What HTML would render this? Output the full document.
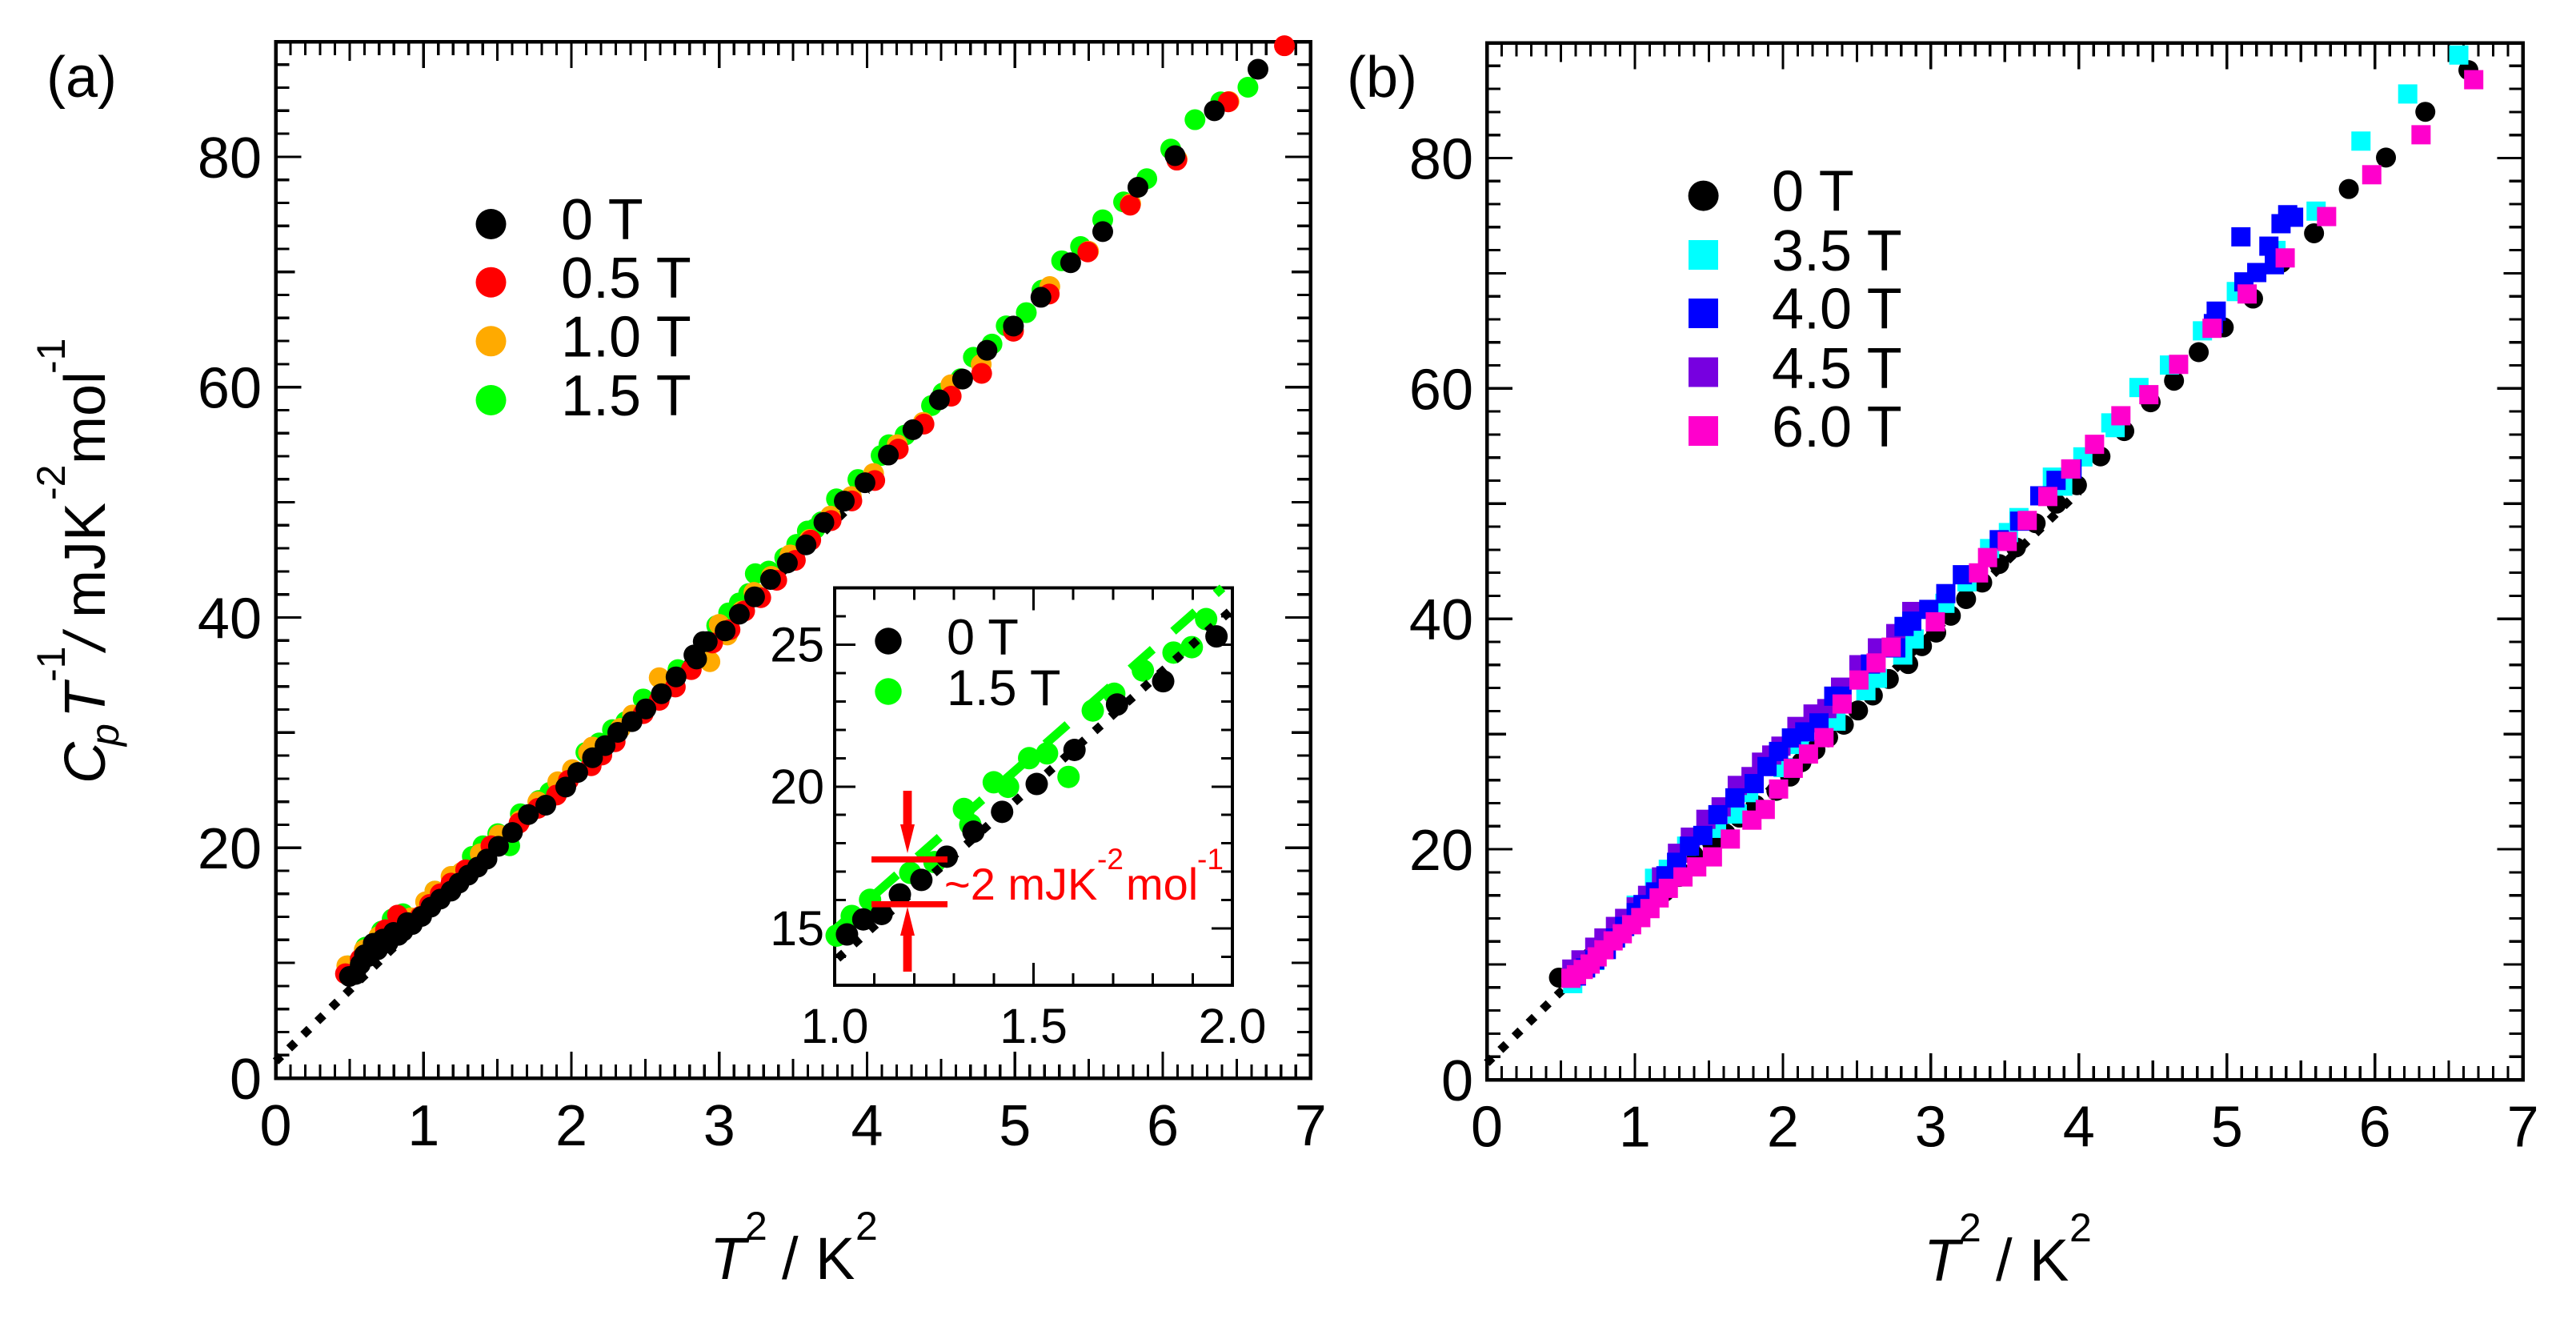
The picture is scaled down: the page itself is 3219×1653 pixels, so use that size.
<!DOCTYPE html>
<html lang="en">
<head>
<meta charset="utf-8">
<title>Specific heat Cp/T versus T squared</title>
<style>
html,body{margin:0;padding:0;background:#fff;width:3219px;height:1653px;overflow:hidden}
svg{display:block;position:absolute;left:0;top:0}
text{font-family:"Liberation Sans",Arial,sans-serif;fill:#000}
.t72{font-size:72px}
.sup{font-size:50px}
.it{font-style:italic}
</style>
</head>
<body>
<svg id="chart" xmlns="http://www.w3.org/2000/svg" width="3219" height="1653" viewBox="0 0 3219 1653">
  <rect x="0" y="0" width="3219" height="1653" fill="#fff"/>
  <g id="panelA"></g>
  <g id="panelB"></g>
  <g id="inset"></g>

  <text class="t72" x="58" y="121">(a)</text>
  <text class="t72" x="1683" y="121">(b)</text>

  <g transform="translate(131,0) rotate(-90)">
    <text class="t72 it" x="-979" y="0">C</text>
    <text class="sup it" x="-932" y="17">p</text>
    <text class="t72 it" x="-897" y="0">T</text>
    <text class="sup" x="-852" y="-50">-1</text>
    <text class="t72 it" x="-812" y="0">/</text>
    <text class="t72" x="-772" y="0">mJK</text>
    <text class="sup" x="-625" y="-50">-2</text>
    <text class="t72" x="-580" y="0">mol</text>
    <text class="sup" x="-467" y="-50">-1</text>
  </g>

  <g>
    <text class="it" style="font-size:74px" x="887" y="1598">T</text>
    <text class="sup" x="931" y="1549">2</text>
    <text style="font-size:74px" x="977" y="1598">/</text>
    <text style="font-size:74px" x="1019" y="1598">K</text>
    <text class="sup" x="1069" y="1549">2</text>
  </g>
  <g>
    <text class="it" style="font-size:74px" x="2404" y="1600">T</text>
    <text class="sup" x="2448" y="1551">2</text>
    <text style="font-size:74px" x="2494" y="1600">/</text>
    <text style="font-size:74px" x="2536" y="1600">K</text>
    <text class="sup" x="2586" y="1551">2</text>
  </g>

  <g>
    <circle cx="613.5" cy="280" r="19" fill="#000"/>
    <text class="t72" x="701" y="299">0 T</text>
    <circle cx="613.5" cy="352.7" r="19" fill="#ff0000"/>
    <text class="t72" x="701" y="372">0.5 T</text>
    <circle cx="613.5" cy="426.3" r="19" fill="#ffaa00"/>
    <text class="t72" x="701" y="445.5">1.0 T</text>
    <circle cx="613.5" cy="500" r="19" fill="#00ff00"/>
    <text class="t72" x="701" y="519">1.5 T</text>
  </g>

  <g>
    <circle cx="2128.6" cy="244.6" r="19" fill="#000"/>
    <text class="t72" x="2214" y="263.5">0 T</text>
    <rect x="2110" y="300" width="37" height="37" fill="#00ffff"/>
    <text class="t72" x="2214" y="338">3.5 T</text>
    <rect x="2110" y="373" width="37" height="37" fill="#0000ff"/>
    <text class="t72" x="2214" y="410.7">4.0 T</text>
    <rect x="2110" y="446.5" width="37" height="37" fill="#7700e0"/>
    <text class="t72" x="2214" y="484.8">4.5 T</text>
    <rect x="2110" y="520" width="37" height="37" fill="#ff00cc"/>
    <text class="t72" x="2214" y="558">6.0 T</text>
  </g>

  <g>
    <circle cx="1110" cy="801" r="16.7" fill="#000"/>
    <text style="font-size:63px" x="1183" y="817.5">0 T</text>
    <circle cx="1110" cy="864" r="16.7" fill="#00ff00"/>
    <text style="font-size:63px" x="1183" y="881">1.5 T</text>
  </g>

  <g>
    <rect x="1089" y="1070" width="95" height="7.6" fill="#ff0000"/>
    <rect x="1089" y="1126" width="95" height="7.6" fill="#ff0000"/>
    <polygon points="1128.6,988 1139.4,988 1139.4,1030 1143,1030 1134,1066 1125,1030 1128.6,1030" fill="#ff0000"/>
    <polygon points="1128.6,1214 1139.4,1214 1139.4,1169 1143,1169 1134,1133 1125,1169 1128.6,1169" fill="#ff0000"/>
    <g>
      <text style="font-size:56px;fill:#ff0000" x="1180" y="1124">~2 mJK</text>
      <text style="font-size:37px;fill:#ff0000" x="1371" y="1086">-2</text>
      <text style="font-size:56px;fill:#ff0000" x="1407" y="1124">mol</text>
      <text style="font-size:37px;fill:#ff0000" x="1496" y="1086">-1</text>
    </g>
  </g>
</svg>

<script>
// ---- Panel (a) data: T^2 (K^2) and Cp/T (mJ K^-2 mol^-1) ----
const a0TX = [.499,.54,.572,.6,.626,.66,.689,.725,.76,.797,.83,.861,.89,.924,.987,1.05,1.113,1.186,1.24,1.303,1.366,1.429,1.507,1.601,1.709,1.827,1.962,2.043,2.143,2.228,2.314,2.41,2.504,2.609,2.708,2.829,2.847,2.892,2.919,3.04,3.136,3.239,3.347,3.461,3.587,3.708,3.846,3.986,4.144,4.31,4.489,4.646,4.811,4.99,5.176,5.377,5.594,5.832,6.083,6.349,6.644];
const a0TY = [8.83,9.0,9.87,10.7,10.56,11.7,11.14,12.07,11.75,12.65,12.4,12.76,13.5,13.34,14.04,14.85,15.54,16.24,16.93,17.63,18.32,19.02,20.13,21.33,22.88,23.7,25.27,26.54,27.82,28.87,30.02,30.95,32.06,33.38,34.84,36.74,36.39,37.9,37.9,38.83,40.28,41.79,43.3,44.73,46.3,48.25,50.1,51.7,54.1,56.3,58.9,60.7,63.2,65.3,67.8,70.8,73.5,77.35,80.1,84.0,87.6];

const a05TX = [.472,.572,.662,.743,.824,.978,1.041,1.113,1.186,1.285,1.456,1.646,1.773,1.899,1.98,2.134,2.206,2.296,2.486,2.594,2.703,2.811,2.955,3.073,3.172,3.281,3.389,3.515,3.619,3.757,3.897,4.052,4.211,4.385,4.569,4.775,4.99,5.232,5.493,5.78,6.095,6.443,6.823];
const a05TY = [9.06,10.33,11.37,12.88,14.15,14.04,15.08,16,16.93,18.09,20.17,22.14,23.42,24.58,25.85,27.12,28.05,29.21,31.65,32.8,33.96,35.47,37.78,38.94,40.56,41.72,43.23,44.96,46.71,48.41,50.12,51.89,54.62,56.79,59.21,61.19,64.85,68.08,71.74,75.8,79.71,84.77,89.64];

const a10TX = [.481,.599,.698,.915,1.014,1.077,1.186,1.258,1.384,1.511,1.655,1.773,1.908,2.007,2.116,2.143,2.332,2.414,2.594,2.937,3.0,3.055,3.154,3.235,3.353,3.479,3.611,3.752,3.894,4.044,4.204,4.38,4.567,4.772,4.99,5.236,5.498,5.783,6.097,6.448];
const a10TY = [9.75,11.14,12.3,13.92,15.31,16.24,17.51,17.86,19.48,21.1,22.37,23.99,25.73,26.78,28.28,28.75,30.37,31.53,34.77,36.16,39.4,38.48,40.56,42.18,43.57,45.43,46.77,48.8,50.5,52.5,55.0,56.94,60.2,61.97,64.9,68.73,71.8,75.93,79.8,84.8];

const a15TX = [.49,.608,.716,.788,.861,1.077,1.204,1.33,1.402,1.502,1.583,1.655,1.781,1.854,2.098,2.188,2.278,2.368,2.486,2.721,2.983,3.064,3.136,3.199,3.244,3.335,3.443,3.524,3.596,3.648,3.691,3.793,3.938,4.095,4.148,4.257,4.436,4.513,4.634,4.719,4.845,4.941,5.077,5.183,5.316,5.444,5.594,5.735,5.892,6.054,6.218,6.392,6.576];
const a15TY = [9.75,11.37,12.76,13.81,14.27,16.24,17.51,19.25,20.17,21.22,20.17,22.95,24.11,24.81,28.28,29.1,30.26,30.95,32.92,35.47,39.29,40.4,41.26,42.07,43.8,44.03,45.19,46.35,47.5,47.7,48.3,50.3,51.98,54.06,55.0,55.83,58.4,59.49,60.73,62.59,63.74,65.32,66.47,68.42,70.97,72.21,74.53,76.08,78.1,80.67,83.22,84.77,86.04];

const aFitX = [0, 4];
const aFitY = [1.45, 51.05];

// ---- Inset data ----
const in0TX = [1.031,1.072,1.118,1.164,1.218,1.282,1.349,1.421,1.508,1.603,1.71,1.826,1.96];
const in0TY = [14.79,15.32,15.51,16.2,16.71,17.53,18.41,19.11,20.09,21.29,22.89,23.71,25.29];
const in15TX = [1.005,1.043,1.089,1.19,1.251,1.325,1.341,1.4,1.436,1.489,1.534,1.588,1.649,1.703,1.775,1.852,1.898,1.934];
const in15TY = [14.75,15.44,16.01,16.96,17.34,19.21,18.66,20.15,19.99,21.0,21.17,20.34,22.68,23.27,24.09,24.72,24.91,25.9];
const inFit0X = [1, 2];
const inFit0Y = [13.85, 26.25];
const inFit15X = [1, 1.975];
const inFit15Y = [14.95, 27];

// ---- Panel (b) data ----
const b0TX = [.487,.6,.7,.8,.9,1.0,1.1,1.2,1.3,1.397,1.521,1.614,1.707,1.816,1.956,2.049,2.126,2.22,2.306,2.412,2.508,2.608,2.716,2.847,2.94,3.036,3.135,3.238,3.347,3.461,3.575,3.708,3.849,3.987,4.146,4.307,4.485,4.643,4.81,4.979,5.177,5.366,5.589,5.824,6.075,6.341,6.632];
const b0TY = [8.86,9.4,10.6,11.5,13,14.3,15.2,16.3,17.6,19.5,20.58,21.36,22.75,23.84,25.07,26.31,27.56,28.64,29.72,30.81,32.05,33.35,34.78,36.08,37.63,38.81,40.27,41.72,43.15,44.76,46.2,48.3,50.0,51.6,54.1,56.3,58.8,60.67,63.15,65.3,67.8,70.9,73.47,77.31,80.04,84.01,87.63];

const b35TX = [.58,.729,.884,1.009,1.133,1.226,1.35,1.552,1.692,1.769,2.002,2.111,2.359,2.561,2.639,2.81,2.887,3.095,3.244,3.397,3.524,3.595,3.821,3.891,4.027,4.216,4.245,4.406,4.612,4.835,5.064,5.332,5.603,5.906,6.222,6.567];
const b35TY = [8.34,10.35,12.83,15.15,17.48,18.26,20.27,21.82,23.06,24.92,27.09,29.1,31.12,33.76,34.84,36.86,38.25,41.35,43.21,46.1,47.49,48.79,52.3,51.52,54.06,57.01,56.6,60.08,62.03,65.0,68.41,71.98,75.39,81.47,85.56,88.94];

const b40TX = [.605,.667,.729,.807,.869,.931,1.009,1.055,1.139,1.21,1.282,1.369,1.459,1.561,1.676,1.806,1.893,1.971,2.058,2.148,2.244,2.344,2.4,2.592,2.763,2.819,2.871,2.986,3.101,3.213,3.462,3.6,3.736,3.846,3.954,4.909,4.928,5.095,5.115,5.202,5.284,5.321,5.366,5.411,5.451];
const b40TY = [9.0,9.7,10.4,11.3,12.3,13.3,14.5,15.2,16.3,17.7,18.87,20.27,21.2,23.0,24.46,25.7,27.18,28.49,29.66,30.19,30.97,33.29,33.29,36.08,37.48,39.34,39.8,40.82,42.19,43.83,46.87,48.48,50.68,52.02,53.01,65.63,66.71,73.16,69.25,70.06,72.35,70.74,74.3,75.08,74.86];

const b45TX = [.574,.636,.729,.791,.869,.931,1.009,1.086,1.18,1.288,1.375,1.48,1.583,1.692,1.785,1.856,1.925,1.987,2.095,2.204,2.297,2.39,2.514,2.639,2.763,2.871];
const b45TY = [9.6,10.4,11.5,12.3,13.3,14.0,15.0,16.0,17.6,19.65,21.05,22.6,23.68,25.54,26.31,27.56,28.18,28.95,30.66,31.74,32.21,34.07,36.02,37.48,38.72,40.64];

const b60TX = [.568,.605,.651,.698,.745,.791,.853,.915,.978,1.04,1.102,1.164,1.226,1.325,1.418,1.524,1.645,1.791,1.881,1.971,2.07,2.173,2.278,2.4,2.514,2.63,2.732,3.03,3.322,3.383,3.516,3.651,3.79,3.945,4.106,4.284,4.473,4.674,4.9,5.137,5.394,5.674,5.979,6.312,6.668];
const b60TY = [8.8,9.11,9.57,10.04,10.66,11.28,12.05,12.67,13.45,14.07,14.85,15.78,16.61,17.6,18.47,19.34,20.89,22.53,23.46,25.23,27.03,28.27,29.69,32.61,34.69,36.17,37.54,39.74,43.99,45.32,46.72,48.54,50.62,53.01,55.15,57.63,59.46,62.09,65.22,68.2,71.33,74.92,78.55,82.02,86.8];

const bFitX = [0, 4];
const bFitY = [1.45, 51.05];

// ---- Tick labels ----
const mainXLabels = [0,1,2,3,4,5,6,7];
const mainYLabels = [0,20,40,60,80];
const insetXLabels = ["1.0","1.5","2.0"];
const insetYLabels = [15,20,25];

const NS = "http://www.w3.org/2000/svg";

function makeEl(tag, attrs, parent) {
  const el = document.createElementNS(NS, tag);
  for (const k in attrs) el.setAttribute(k, attrs[k]);
  parent.appendChild(el);
  return el;
}

function makeScale(d0, d1, p0, p1) {
  return function (v) { return p0 + (v - d0) * (p1 - p0) / (d1 - d0); };
}

function drawFrame(parent, box, sw) {
  const f = makeEl("rect", {x: box.l, y: box.t, width: box.r - box.l, height: box.b - box.t, fill: "none", stroke: "#000", "stroke-width": sw, "shape-rendering": "crispEdges"}, parent);
  
  
}

function tickPath(box, sx, sy, xStep, yStep, lens) {
  let d = "";
  const nx = Math.round((sx.max - sx.min) / xStep);
  for (let i = 1; i < nx; i++) {
    const v = sx.min + i * xStep;
    const x = sx(v);
    const len = lens.x(i);
    d += "M" + x + " " + box.b + "V" + (box.b - len) + "M" + x + " " + box.t + "V" + (box.t + len);
  }
  const ny = Math.round((sy.max - sy.min) / yStep);
  for (let i = 1; i < ny; i++) {
    const v = sy.min + i * yStep;
    const y = sy(v);
    const len = lens.y(i);
    d += "M" + box.l + " " + y + "H" + (box.l + len) + "M" + box.r + " " + y + "H" + (box.r - len);
  }
  return d;
}

function drawTicks(parent, d, sw) {
  const t = makeEl("path", {d: d, fill: "none", stroke: "#000", "stroke-width": sw, "shape-rendering": "crispEdges"}, parent);
  
  
}

function drawTickLabels(parent, labels, posFn, fixed, axis, size, yOffset) {
  labels.forEach(function (lab) {
    const v = parseFloat(lab);
    const attrs = axis === "x"
      ? {x: posFn(v), y: fixed, "text-anchor": "middle", "font-size": size}
      : {x: fixed, y: posFn(v) + yOffset, "text-anchor": "end", "font-size": size};
    const t = makeEl("text", attrs, parent);
    t.textContent = lab;
    
    
  });
}

function drawCircles(parent, xs, ys, sx, sy, r, color, name) {
  const g = makeEl("g", {fill: color}, parent);
  
  
  xs.forEach(function (x, i) {
    const c = makeEl("circle", {cx: sx(x), cy: sy(ys[i]), r: r}, g);
    
    
  });
}

function drawSquares(parent, xs, ys, sx, sy, size, color, name) {
  const g = makeEl("g", {fill: color}, parent);
  
  
  xs.forEach(function (x, i) {
    const c = makeEl("rect", {x: sx(x) - size / 2, y: sy(ys[i]) - size / 2, width: size, height: size}, g);
    
    
  });
}

function drawFit(parent, xs, ys, sx, sy, color, sw, dash, offset, name) {
  const l = makeEl("line", {x1: sx(xs[0]), y1: sy(ys[0]), x2: sx(xs[1]), y2: sy(ys[1]), stroke: color, "stroke-width": sw, "stroke-dasharray": dash, "stroke-dashoffset": offset}, parent);
  
  
}

// ---- Panel A ----
const gA = document.getElementById("panelA");
const boxA = {l: 344.5, r: 1637.75, t: 52, b: 1347};
const xA = makeScale(0, 7, boxA.l, boxA.r); xA.min = 0; xA.max = 7;
const yA = makeScale(0, 90, boxA.b, boxA.t); yA.min = 0; yA.max = 90;

// ---- Panel B ----
const gB = document.getElementById("panelB");
const boxB = {l: 1858, r: 3152.6, t: 53.5, b: 1349};
const xB = makeScale(0, 7, boxB.l, boxB.r); xB.min = 0; xB.max = 7;
const yB = makeScale(0, 90, boxB.b, boxB.t); yB.min = 0; yB.max = 90;

const mainLens = {
  x: function (i) { return i % 10 === 0 ? 33 : (i % 5 === 0 ? 24 : 17); },
  y: function (i) { return i % 10 === 0 ? 32 : (i % 5 === 0 ? 24 : 17); }
};

[[gA, boxA, xA, yA, 1431, 327], [gB, boxB, xB, yB, 1432.5, 1841]].forEach(function (p) {
  drawFit(p[0], p[0] === gA ? aFitX : bFitX, p[0] === gA ? aFitY : bFitY, p[2], p[3], "#000", 10.5, "10.5 13.96", 1, "fit-line");
  drawTicks(p[0], tickPath(p[1], p[2], p[3], 0.1, 2, mainLens), 3.2);
  drawFrame(p[0], p[1], 4.5);
  drawTickLabels(p[0], mainXLabels.map(String), p[2], p[4], "x", 72, 0);
  drawTickLabels(p[0], mainYLabels.map(String), p[3], p[5], "y", 72, 26);
});

drawCircles(gA, a15TX, a15TY, xA, yA, 13, "#00ff00", "series-1-5t");
drawCircles(gA, a10TX, a10TY, xA, yA, 13, "#ffaa00", "series-1-0t");
drawCircles(gA, a05TX, a05TY, xA, yA, 13, "#ff0000", "series-0-5t");
drawCircles(gA, a0TX, a0TY, xA, yA, 13, "#000000", "series-0t");

drawCircles(gB, b0TX, b0TY, xB, yB, 12.5, "#000000", "series-b-0t");
drawSquares(gB, b35TX, b35TY, xB, yB, 24, "#00ffff", "series-3-5t");
drawSquares(gB, b45TX, b45TY, xB, yB, 24, "#7700e0", "series-4-5t");
drawSquares(gB, b40TX, b40TY, xB, yB, 24, "#0000ff", "series-4-0t");
drawSquares(gB, b60TX, b60TY, xB, yB, 24, "#ff00cc", "series-6-0t");

// ---- Inset ----
const gI = document.getElementById("inset");
const boxI = {l: 1043, r: 1540, t: 734.5, b: 1231};
const xI = makeScale(1, 2, boxI.l, boxI.r); xI.min = 1; xI.max = 2;
const yI = makeScale(13, 27, boxI.b, boxI.t); yI.min = 13; yI.max = 27;
const insetLens = {
  x: function (i) { return i % 5 === 0 ? 28 : 15; },
  y: function (i) { return (13 + i) % 5 === 0 ? 26 : 14; }
};
drawTicks(gI, tickPath(boxI, xI, yI, 0.1, 1, insetLens), 3);
drawFrame(gI, boxI, 3.8);
drawTickLabels(gI, insetXLabels, xI, 1303, "x", 61, 0);
drawTickLabels(gI, insetYLabels.map(String), yI, 1030, "y", 61, 21);
drawFit(gI, inFit15X, inFit15Y, xI, yI, "#00ff00", 11, "37 34", 4, "inset-fit-line-1-5t");
drawCircles(gI, in15TX, in15TY, xI, yI, 14, "#00ff00", "inset-series-1-5t");
drawFit(gI, inFit0X, inFit0Y, xI, yI, "#000", 10.5, "10.5 16.3", 21.8, "inset-fit-line-0t");
drawCircles(gI, in0TX, in0TY, xI, yI, 14, "#000000", "inset-series-0t");
</script>
</body>
</html>
